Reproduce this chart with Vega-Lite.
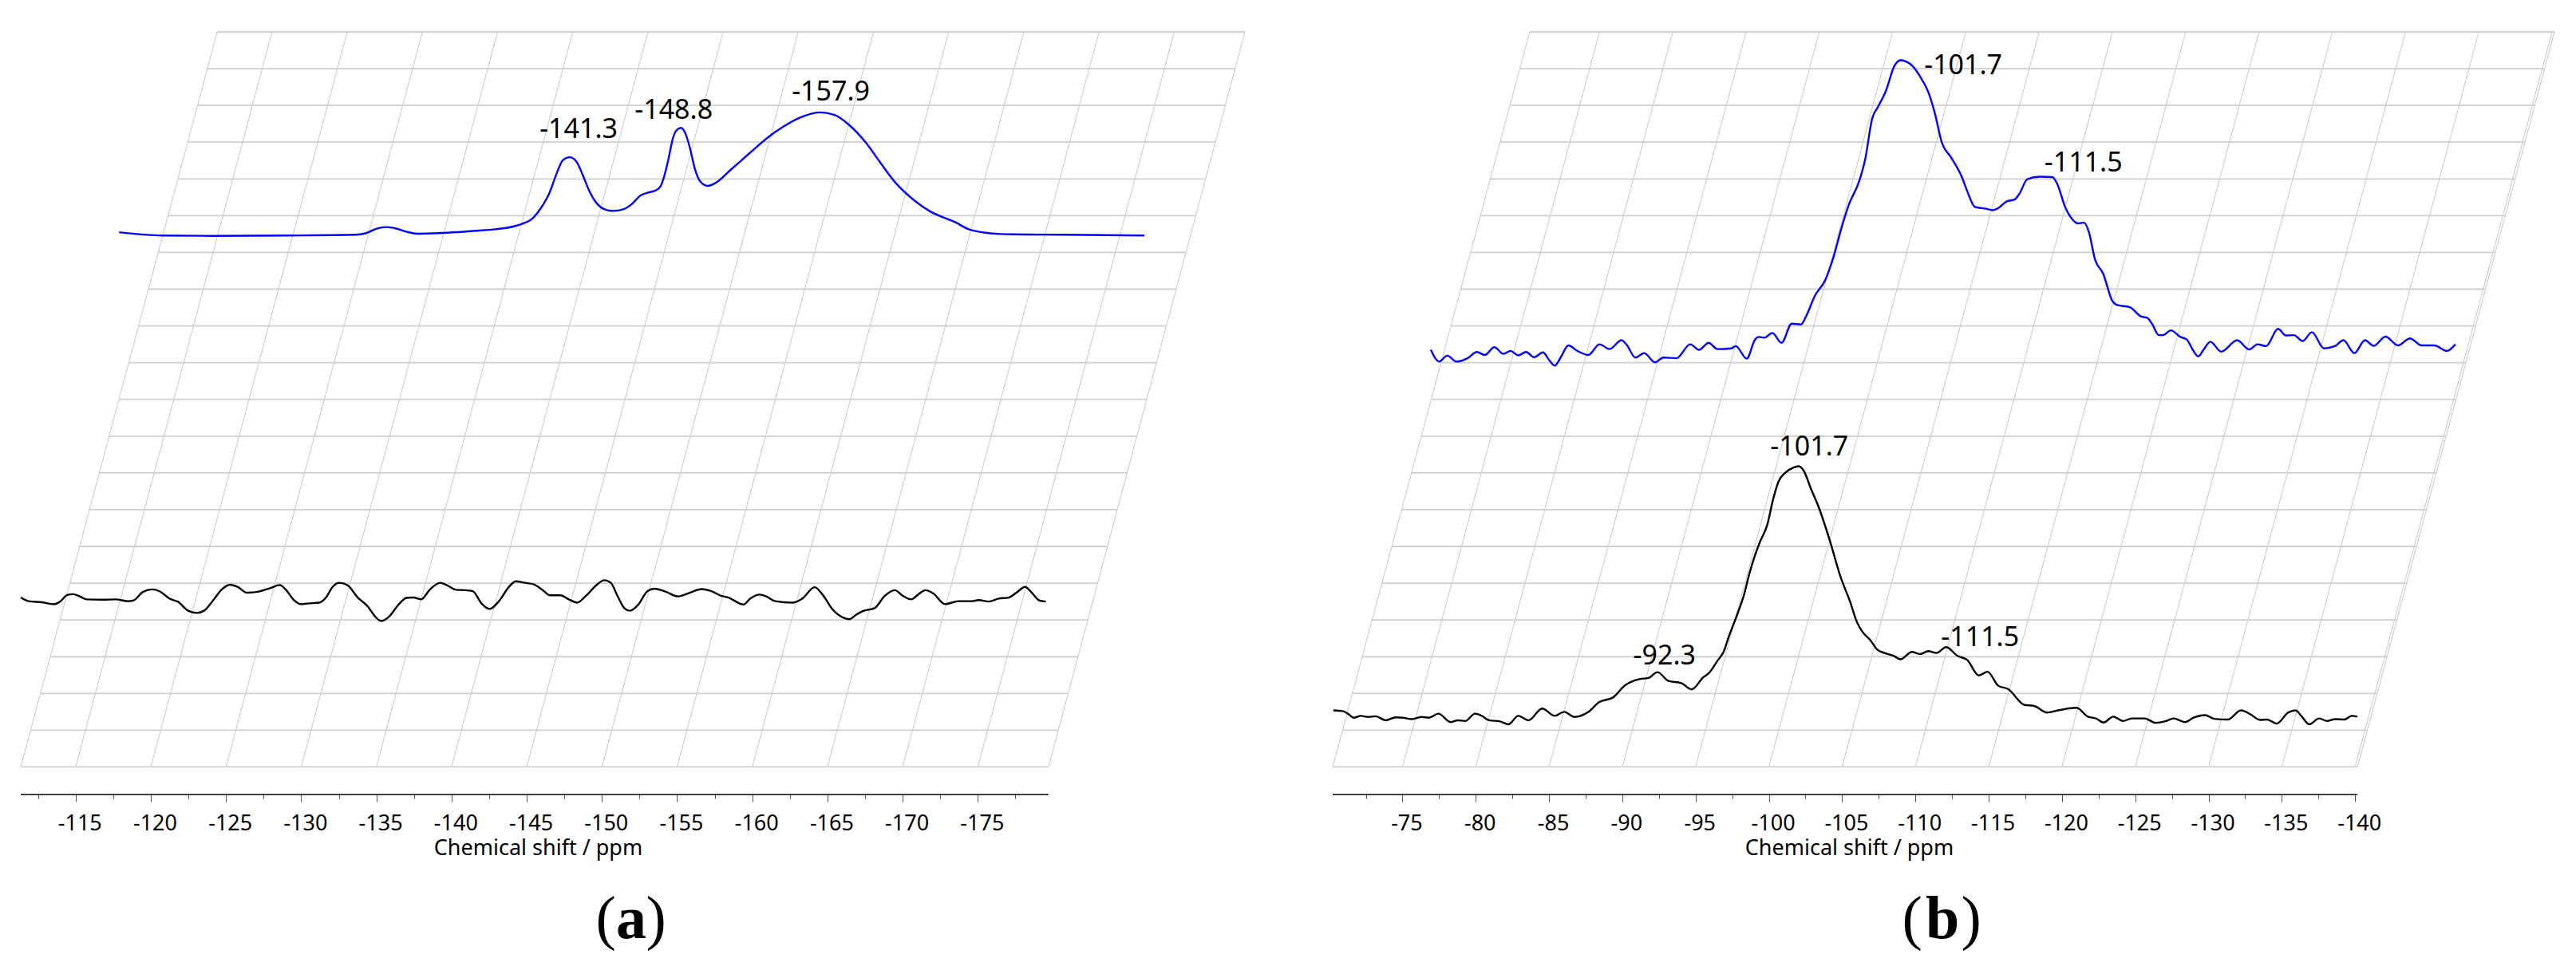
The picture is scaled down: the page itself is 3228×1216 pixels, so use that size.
{
  "$schema": "https://vega.github.io/schema/vega-lite/v6.json",
  "background": "white",
  "padding": {"left": 21, "top": 39, "right": 0, "bottom": 0},
  "config": {"view": {"stroke": null}},
  "datasets": {
    "grid_a_h": [
      {"shift":-111.35,"level":0,"shift2":-179.70,"level2":0},{"shift":-112.00,"level":1,"shift2":-180.35,"level2":1},{"shift":-112.66,"level":2,"shift2":-181.01,"level2":2},{"shift":-113.31,"level":3,"shift2":-181.66,"level2":3},{"shift":-113.96,"level":4,"shift2":-182.31,"level2":4},{"shift":-114.61,"level":5,"shift2":-182.96,"level2":5},{"shift":-115.27,"level":6,"shift2":-183.62,"level2":6},{"shift":-115.92,"level":7,"shift2":-184.27,"level2":7},{"shift":-116.57,"level":8,"shift2":-184.92,"level2":8},{"shift":-117.23,"level":9,"shift2":-185.58,"level2":9},{"shift":-117.88,"level":10,"shift2":-186.23,"level2":10},{"shift":-118.53,"level":11,"shift2":-186.88,"level2":11},{"shift":-119.18,"level":12,"shift2":-187.53,"level2":12},{"shift":-119.84,"level":13,"shift2":-188.19,"level2":13},{"shift":-120.49,"level":14,"shift2":-188.84,"level2":14},{"shift":-121.14,"level":15,"shift2":-189.49,"level2":15},{"shift":-121.80,"level":16,"shift2":-190.15,"level2":16},{"shift":-122.45,"level":17,"shift2":-190.80,"level2":17},{"shift":-123.10,"level":18,"shift2":-191.45,"level2":18},{"shift":-123.76,"level":19,"shift2":-192.11,"level2":19},{"shift":-124.41,"level":20,"shift2":-192.76,"level2":20}
    ],
    "grid_a_v": [
      {"shift":-111.35,"level":0,"shift2":-124.41,"level2":20},{"shift":-115,"level":0,"shift2":-128.06,"level2":20},{"shift":-120,"level":0,"shift2":-133.06,"level2":20},{"shift":-125,"level":0,"shift2":-138.06,"level2":20},{"shift":-130,"level":0,"shift2":-143.06,"level2":20},{"shift":-135,"level":0,"shift2":-148.06,"level2":20},{"shift":-140,"level":0,"shift2":-153.06,"level2":20},{"shift":-145,"level":0,"shift2":-158.06,"level2":20},{"shift":-150,"level":0,"shift2":-163.06,"level2":20},{"shift":-155,"level":0,"shift2":-168.06,"level2":20},{"shift":-160,"level":0,"shift2":-173.06,"level2":20},{"shift":-165,"level":0,"shift2":-178.06,"level2":20},{"shift":-170,"level":0,"shift2":-183.06,"level2":20},{"shift":-175,"level":0,"shift2":-188.06,"level2":20},{"shift":-179.70,"level":0,"shift2":-192.76,"level2":20}
    ],
    "grid_b_h": [
      {"shift":-70.24,"level":0,"shift2":-140.16,"level2":0},{"shift":-70.91,"level":1,"shift2":-140.83,"level2":1},{"shift":-71.58,"level":2,"shift2":-141.50,"level2":2},{"shift":-72.26,"level":3,"shift2":-142.18,"level2":3},{"shift":-72.93,"level":4,"shift2":-142.85,"level2":4},{"shift":-73.60,"level":5,"shift2":-143.52,"level2":5},{"shift":-74.27,"level":6,"shift2":-144.19,"level2":6},{"shift":-74.94,"level":7,"shift2":-144.86,"level2":7},{"shift":-75.62,"level":8,"shift2":-145.54,"level2":8},{"shift":-76.29,"level":9,"shift2":-146.21,"level2":9},{"shift":-76.96,"level":10,"shift2":-146.88,"level2":10},{"shift":-77.63,"level":11,"shift2":-147.55,"level2":11},{"shift":-78.30,"level":12,"shift2":-148.22,"level2":12},{"shift":-78.98,"level":13,"shift2":-148.90,"level2":13},{"shift":-79.65,"level":14,"shift2":-149.57,"level2":14},{"shift":-80.32,"level":15,"shift2":-150.24,"level2":15},{"shift":-80.99,"level":16,"shift2":-150.91,"level2":16},{"shift":-81.66,"level":17,"shift2":-151.58,"level2":17},{"shift":-82.34,"level":18,"shift2":-152.26,"level2":18},{"shift":-83.01,"level":19,"shift2":-152.93,"level2":19},{"shift":-83.68,"level":20,"shift2":-153.60,"level2":20}
    ],
    "grid_b_v": [
      {"shift":-70.24,"level":0,"shift2":-83.68,"level2":20},{"shift":-75,"level":0,"shift2":-88.44,"level2":20},{"shift":-80,"level":0,"shift2":-93.44,"level2":20},{"shift":-85,"level":0,"shift2":-98.44,"level2":20},{"shift":-90,"level":0,"shift2":-103.44,"level2":20},{"shift":-95,"level":0,"shift2":-108.44,"level2":20},{"shift":-100,"level":0,"shift2":-113.44,"level2":20},{"shift":-105,"level":0,"shift2":-118.44,"level2":20},{"shift":-110,"level":0,"shift2":-123.44,"level2":20},{"shift":-115,"level":0,"shift2":-128.44,"level2":20},{"shift":-120,"level":0,"shift2":-133.44,"level2":20},{"shift":-125,"level":0,"shift2":-138.44,"level2":20},{"shift":-130,"level":0,"shift2":-143.44,"level2":20},{"shift":-135,"level":0,"shift2":-148.44,"level2":20},{"shift":-140,"level":0,"shift2":-153.44,"level2":20},{"shift":-140.16,"level":0,"shift2":-153.60,"level2":20}
    ],
    "trace_a": [
      {"shift":-117.89,"intensity":14.55,"series":"upper"},{"shift":-120.79,"intensity":14.46,"series":"upper"},{"shift":-124.07,"intensity":14.45,"series":"upper"},{"shift":-128.97,"intensity":14.46,"series":"upper"},{"shift":-133.63,"intensity":14.48,"series":"upper"},{"shift":-134.28,"intensity":14.52,"series":"upper"},{"shift":-134.99,"intensity":14.64,"series":"upper"},{"shift":-135.65,"intensity":14.69,"series":"upper"},{"shift":-136.31,"intensity":14.65,"series":"upper"},{"shift":-137.02,"intensity":14.56,"series":"upper"},{"shift":-137.73,"intensity":14.51,"series":"upper"},{"shift":-138.82,"intensity":14.52,"series":"upper"},{"shift":-141.71,"intensity":14.59,"series":"upper"},{"shift":-142.93,"intensity":14.63,"series":"upper"},{"shift":-144.15,"intensity":14.71,"series":"upper"},{"shift":-144.76,"intensity":14.79,"series":"upper"},{"shift":-145.37,"intensity":14.92,"series":"upper"},{"shift":-145.88,"intensity":15.17,"series":"upper"},{"shift":-146.49,"intensity":15.60,"series":"upper"},{"shift":-146.99,"intensity":16.15,"series":"upper"},{"shift":-147.40,"intensity":16.51,"series":"upper"},{"shift":-147.85,"intensity":16.59,"series":"upper"},{"shift":-148.31,"intensity":16.47,"series":"upper"},{"shift":-148.72,"intensity":16.11,"series":"upper"},{"shift":-149.12,"intensity":15.71,"series":"upper"},{"shift":-149.63,"intensity":15.35,"series":"upper"},{"shift":-150.14,"intensity":15.18,"series":"upper"},{"shift":-150.75,"intensity":15.13,"series":"upper"},{"shift":-151.46,"intensity":15.18,"series":"upper"},{"shift":-151.97,"intensity":15.31,"series":"upper"},{"shift":-152.57,"intensity":15.55,"series":"upper"},{"shift":-153.08,"intensity":15.63,"series":"upper"},{"shift":-153.59,"intensity":15.69,"series":"upper"},{"shift":-153.90,"intensity":15.80,"series":"upper"},{"shift":-154.14,"intensity":16.07,"series":"upper"},{"shift":-154.41,"intensity":16.51,"series":"upper"},{"shift":-154.71,"intensity":17.09,"series":"upper"},{"shift":-154.95,"intensity":17.32,"series":"upper"},{"shift":-155.26,"intensity":17.39,"series":"upper"},{"shift":-155.56,"intensity":17.23,"series":"upper"},{"shift":-155.86,"intensity":16.83,"series":"upper"},{"shift":-156.17,"intensity":16.29,"series":"upper"},{"shift":-156.54,"intensity":15.93,"series":"upper"},{"shift":-157.04,"intensity":15.81,"series":"upper"},{"shift":-157.55,"intensity":15.89,"series":"upper"},{"shift":-158.57,"intensity":16.25,"series":"upper"},{"shift":-159.79,"intensity":16.69,"series":"upper"},{"shift":-161.01,"intensity":17.12,"series":"upper"},{"shift":-162.02,"intensity":17.41,"series":"upper"},{"shift":-163.24,"intensity":17.68,"series":"upper"},{"shift":-164.46,"intensity":17.81,"series":"upper"},{"shift":-165.48,"intensity":17.74,"series":"upper"},{"shift":-166.49,"intensity":17.45,"series":"upper"},{"shift":-167.51,"intensity":17.01,"series":"upper"},{"shift":-168.52,"intensity":16.44,"series":"upper"},{"shift":-169.54,"intensity":15.89,"series":"upper"},{"shift":-170.55,"intensity":15.49,"series":"upper"},{"shift":-171.77,"intensity":15.13,"series":"upper"},{"shift":-173.56,"intensity":14.81,"series":"upper"},{"shift":-174.33,"intensity":14.64,"series":"upper"},{"shift":-175.41,"intensity":14.54,"series":"upper"},{"shift":-176.52,"intensity":14.50,"series":"upper"},{"shift":-180.88,"intensity":14.48,"series":"upper"},{"shift":-186.08,"intensity":14.46,"series":"upper"},
      {"shift":-111.36,"intensity":4.61,"series":"lower"},{"shift":-111.87,"intensity":4.51,"series":"lower"},{"shift":-112.77,"intensity":4.48,"series":"lower"},{"shift":-113.55,"intensity":4.43,"series":"lower"},{"shift":-114.00,"intensity":4.51,"series":"lower"},{"shift":-114.44,"intensity":4.68,"series":"lower"},{"shift":-114.82,"intensity":4.70,"series":"lower"},{"shift":-115.22,"intensity":4.65,"series":"lower"},{"shift":-115.72,"intensity":4.56,"series":"lower"},{"shift":-116.79,"intensity":4.55,"series":"lower"},{"shift":-117.68,"intensity":4.56,"series":"lower"},{"shift":-118.46,"intensity":4.51,"series":"lower"},{"shift":-118.84,"intensity":4.53,"series":"lower"},{"shift":-119.47,"intensity":4.76,"series":"lower"},{"shift":-120.10,"intensity":4.83,"series":"lower"},{"shift":-120.58,"intensity":4.78,"series":"lower"},{"shift":-121.25,"intensity":4.58,"series":"lower"},{"shift":-121.82,"intensity":4.49,"series":"lower"},{"shift":-122.48,"intensity":4.25,"series":"lower"},{"shift":-123.09,"intensity":4.19,"series":"lower"},{"shift":-123.60,"intensity":4.27,"series":"lower"},{"shift":-124.16,"intensity":4.54,"series":"lower"},{"shift":-124.72,"intensity":4.83,"series":"lower"},{"shift":-125.28,"intensity":4.96,"series":"lower"},{"shift":-125.77,"intensity":4.90,"series":"lower"},{"shift":-126.40,"intensity":4.74,"series":"lower"},{"shift":-127.18,"intensity":4.77,"series":"lower"},{"shift":-127.96,"intensity":4.87,"series":"lower"},{"shift":-128.58,"intensity":4.95,"series":"lower"},{"shift":-128.96,"intensity":4.83,"series":"lower"},{"shift":-129.52,"intensity":4.54,"series":"lower"},{"shift":-129.97,"intensity":4.43,"series":"lower"},{"shift":-130.53,"intensity":4.45,"series":"lower"},{"shift":-131.19,"intensity":4.47,"series":"lower"},{"shift":-131.65,"intensity":4.61,"series":"lower"},{"shift":-132.09,"intensity":4.90,"series":"lower"},{"shift":-132.54,"intensity":5.01,"series":"lower"},{"shift":-133.09,"intensity":4.94,"series":"lower"},{"shift":-133.76,"intensity":4.61,"series":"lower"},{"shift":-134.44,"intensity":4.36,"series":"lower"},{"shift":-134.88,"intensity":4.11,"series":"lower"},{"shift":-135.33,"intensity":3.97,"series":"lower"},{"shift":-135.89,"intensity":4.11,"series":"lower"},{"shift":-136.44,"intensity":4.40,"series":"lower"},{"shift":-137.01,"intensity":4.60,"series":"lower"},{"shift":-137.45,"intensity":4.61,"series":"lower"},{"shift":-137.97,"intensity":4.56,"series":"lower"},{"shift":-138.57,"intensity":4.83,"series":"lower"},{"shift":-139.24,"intensity":5.01,"series":"lower"},{"shift":-139.80,"intensity":4.92,"series":"lower"},{"shift":-140.29,"intensity":4.82,"series":"lower"},{"shift":-140.91,"intensity":4.81,"series":"lower"},{"shift":-141.41,"intensity":4.78,"series":"lower"},{"shift":-142.03,"intensity":4.43,"series":"lower"},{"shift":-142.54,"intensity":4.30,"series":"lower"},{"shift":-143.15,"intensity":4.51,"series":"lower"},{"shift":-143.82,"intensity":4.90,"series":"lower"},{"shift":-144.27,"intensity":5.05,"series":"lower"},{"shift":-144.89,"intensity":5.01,"series":"lower"},{"shift":-145.45,"intensity":4.97,"series":"lower"},{"shift":-146.01,"intensity":4.83,"series":"lower"},{"shift":-146.57,"intensity":4.67,"series":"lower"},{"shift":-147.24,"intensity":4.67,"series":"lower"},{"shift":-147.80,"intensity":4.56,"series":"lower"},{"shift":-148.35,"intensity":4.47,"series":"lower"},{"shift":-148.92,"intensity":4.65,"series":"lower"},{"shift":-149.70,"intensity":4.97,"series":"lower"},{"shift":-150.14,"intensity":5.08,"series":"lower"},{"shift":-150.59,"intensity":5.01,"series":"lower"},{"shift":-151.04,"intensity":4.65,"series":"lower"},{"shift":-151.49,"intensity":4.32,"series":"lower"},{"shift":-151.86,"intensity":4.25,"series":"lower"},{"shift":-152.38,"intensity":4.40,"series":"lower"},{"shift":-153.05,"intensity":4.79,"series":"lower"},{"shift":-153.49,"intensity":4.85,"series":"lower"},{"shift":-154.28,"intensity":4.76,"series":"lower"},{"shift":-155.06,"intensity":4.64,"series":"lower"},{"shift":-155.84,"intensity":4.74,"series":"lower"},{"shift":-156.62,"intensity":4.84,"series":"lower"},{"shift":-157.29,"intensity":4.78,"series":"lower"},{"shift":-157.85,"intensity":4.67,"series":"lower"},{"shift":-158.41,"intensity":4.61,"series":"lower"},{"shift":-159.42,"intensity":4.42,"series":"lower"},{"shift":-159.86,"intensity":4.58,"series":"lower"},{"shift":-160.49,"intensity":4.69,"series":"lower"},{"shift":-160.98,"intensity":4.63,"series":"lower"},{"shift":-161.53,"intensity":4.51,"series":"lower"},{"shift":-162.65,"intensity":4.47,"series":"lower"},{"shift":-163.32,"intensity":4.58,"series":"lower"},{"shift":-164.15,"intensity":4.89,"series":"lower"},{"shift":-164.67,"intensity":4.69,"series":"lower"},{"shift":-165.33,"intensity":4.29,"series":"lower"},{"shift":-166.00,"intensity":4.07,"series":"lower"},{"shift":-166.45,"intensity":4.02,"series":"lower"},{"shift":-166.90,"intensity":4.14,"series":"lower"},{"shift":-167.35,"intensity":4.24,"series":"lower"},{"shift":-168.13,"intensity":4.32,"series":"lower"},{"shift":-168.80,"intensity":4.65,"series":"lower"},{"shift":-169.47,"intensity":4.81,"series":"lower"},{"shift":-170.03,"intensity":4.65,"series":"lower"},{"shift":-170.58,"intensity":4.56,"series":"lower"},{"shift":-171.03,"intensity":4.69,"series":"lower"},{"shift":-171.52,"intensity":4.81,"series":"lower"},{"shift":-172.04,"intensity":4.72,"series":"lower"},{"shift":-172.82,"intensity":4.43,"series":"lower"},{"shift":-173.71,"intensity":4.51,"series":"lower"},{"shift":-174.61,"intensity":4.51,"series":"lower"},{"shift":-175.05,"intensity":4.54,"series":"lower"},{"shift":-175.72,"intensity":4.50,"series":"lower"},{"shift":-176.39,"intensity":4.58,"series":"lower"},{"shift":-177.06,"intensity":4.61,"series":"lower"},{"shift":-177.62,"intensity":4.76,"series":"lower"},{"shift":-178.14,"intensity":4.90,"series":"lower"},{"shift":-178.63,"intensity":4.72,"series":"lower"},{"shift":-179.08,"intensity":4.53,"series":"lower"},{"shift":-179.52,"intensity":4.50,"series":"lower"}
    ],
    "trace_b": [
      {"shift":-76.94,"intensity":11.35,"series":"upper"},{"shift":-77.24,"intensity":11.12,"series":"upper"},{"shift":-77.49,"intensity":11.03,"series":"upper"},{"shift":-78.06,"intensity":11.19,"series":"upper"},{"shift":-78.69,"intensity":11.03,"series":"upper"},{"shift":-79.44,"intensity":11.12,"series":"upper"},{"shift":-80.07,"intensity":11.29,"series":"upper"},{"shift":-80.62,"intensity":11.21,"series":"upper"},{"shift":-81.27,"intensity":11.42,"series":"upper"},{"shift":-81.89,"intensity":11.24,"series":"upper"},{"shift":-82.37,"intensity":11.32,"series":"upper"},{"shift":-82.89,"intensity":11.20,"series":"upper"},{"shift":-83.44,"intensity":11.29,"series":"upper"},{"shift":-83.99,"intensity":11.15,"series":"upper"},{"shift":-84.59,"intensity":11.28,"series":"upper"},{"shift":-84.99,"intensity":11.08,"series":"upper"},{"shift":-85.39,"intensity":10.92,"series":"upper"},{"shift":-85.82,"intensity":11.16,"series":"upper"},{"shift":-86.32,"intensity":11.47,"series":"upper"},{"shift":-86.94,"intensity":11.32,"series":"upper"},{"shift":-87.69,"intensity":11.21,"series":"upper"},{"shift":-88.44,"intensity":11.50,"series":"upper"},{"shift":-89.14,"intensity":11.37,"series":"upper"},{"shift":-89.94,"intensity":11.61,"series":"upper"},{"shift":-90.31,"intensity":11.48,"series":"upper"},{"shift":-90.89,"intensity":11.14,"series":"upper"},{"shift":-91.49,"intensity":11.26,"series":"upper"},{"shift":-92.24,"intensity":11.01,"series":"upper"},{"shift":-92.81,"intensity":11.14,"series":"upper"},{"shift":-93.69,"intensity":11.12,"series":"upper"},{"shift":-94.64,"intensity":11.50,"series":"upper"},{"shift":-95.24,"intensity":11.35,"series":"upper"},{"shift":-95.89,"intensity":11.54,"series":"upper"},{"shift":-96.49,"intensity":11.37,"series":"upper"},{"shift":-97.44,"intensity":11.39,"series":"upper"},{"shift":-97.74,"intensity":11.45,"series":"upper"},{"shift":-98.49,"intensity":11.11,"series":"upper"},{"shift":-99.06,"intensity":11.63,"series":"upper"},{"shift":-99.31,"intensity":11.70,"series":"upper"},{"shift":-99.69,"intensity":11.68,"series":"upper"},{"shift":-100.24,"intensity":11.81,"series":"upper"},{"shift":-100.86,"intensity":11.54,"series":"upper"},{"shift":-101.56,"intensity":12.06,"series":"upper"},{"shift":-102.19,"intensity":12.04,"series":"upper"},{"shift":-102.56,"intensity":12.28,"series":"upper"},{"shift":-103.14,"intensity":12.82,"series":"upper"},{"shift":-103.81,"intensity":13.22,"series":"upper"},{"shift":-104.43,"intensity":13.90,"series":"upper"},{"shift":-104.93,"intensity":14.63,"series":"upper"},{"shift":-105.44,"intensity":15.28,"series":"upper"},{"shift":-106.19,"intensity":15.97,"series":"upper"},{"shift":-106.56,"intensity":16.51,"series":"upper"},{"shift":-107.06,"intensity":17.66,"series":"upper"},{"shift":-107.43,"intensity":17.95,"series":"upper"},{"shift":-107.98,"intensity":18.39,"series":"upper"},{"shift":-108.56,"intensity":19.07,"series":"upper"},{"shift":-108.98,"intensity":19.23,"series":"upper"},{"shift":-109.81,"intensity":19.07,"series":"upper"},{"shift":-110.31,"intensity":18.79,"series":"upper"},{"shift":-110.93,"intensity":18.31,"series":"upper"},{"shift":-111.31,"intensity":17.81,"series":"upper"},{"shift":-111.81,"intensity":16.98,"series":"upper"},{"shift":-112.44,"intensity":16.58,"series":"upper"},{"shift":-113.18,"intensity":16.04,"series":"upper"},{"shift":-113.56,"intensity":15.64,"series":"upper"},{"shift":-114.06,"intensity":15.24,"series":"upper"},{"shift":-114.81,"intensity":15.19,"series":"upper"},{"shift":-115.27,"intensity":15.15,"series":"upper"},{"shift":-115.59,"intensity":15.19,"series":"upper"},{"shift":-116.24,"intensity":15.39,"series":"upper"},{"shift":-116.77,"intensity":15.44,"series":"upper"},{"shift":-117.10,"intensity":15.60,"series":"upper"},{"shift":-117.63,"intensity":15.99,"series":"upper"},{"shift":-118.49,"intensity":16.06,"series":"upper"},{"shift":-119.35,"intensity":16.05,"series":"upper"},{"shift":-119.68,"intensity":15.86,"series":"upper"},{"shift":-120.21,"intensity":15.24,"series":"upper"},{"shift":-120.75,"intensity":14.88,"series":"upper"},{"shift":-121.08,"intensity":14.79,"series":"upper"},{"shift":-121.51,"intensity":14.81,"series":"upper"},{"shift":-121.83,"intensity":14.56,"series":"upper"},{"shift":-122.26,"intensity":13.80,"series":"upper"},{"shift":-122.80,"intensity":13.43,"series":"upper"},{"shift":-123.45,"intensity":12.67,"series":"upper"},{"shift":-123.77,"intensity":12.57,"series":"upper"},{"shift":-124.63,"intensity":12.51,"series":"upper"},{"shift":-125.38,"intensity":12.26,"series":"upper"},{"shift":-125.81,"intensity":12.22,"series":"upper"},{"shift":-126.14,"intensity":12.06,"series":"upper"},{"shift":-126.61,"intensity":11.75,"series":"upper"},{"shift":-126.89,"intensity":11.75,"series":"upper"},{"shift":-127.43,"intensity":11.88,"series":"upper"},{"shift":-128.08,"intensity":11.70,"series":"upper"},{"shift":-128.51,"intensity":11.63,"series":"upper"},{"shift":-128.94,"intensity":11.34,"series":"upper"},{"shift":-129.30,"intensity":11.17,"series":"upper"},{"shift":-129.69,"intensity":11.37,"series":"upper"},{"shift":-130.12,"intensity":11.57,"series":"upper"},{"shift":-130.87,"intensity":11.30,"series":"upper"},{"shift":-131.95,"intensity":11.61,"series":"upper"},{"shift":-132.77,"intensity":11.36,"series":"upper"},{"shift":-133.34,"intensity":11.50,"series":"upper"},{"shift":-133.93,"intensity":11.45,"series":"upper"},{"shift":-134.74,"intensity":11.92,"series":"upper"},{"shift":-135.28,"intensity":11.74,"series":"upper"},{"shift":-135.82,"intensity":11.75,"series":"upper"},{"shift":-136.43,"intensity":11.59,"series":"upper"},{"shift":-137.05,"intensity":11.83,"series":"upper"},{"shift":-137.87,"intensity":11.39,"series":"upper"},{"shift":-138.62,"intensity":11.45,"series":"upper"},{"shift":-139.20,"intensity":11.61,"series":"upper"},{"shift":-139.95,"intensity":11.26,"series":"upper"},{"shift":-140.67,"intensity":11.61,"series":"upper"},{"shift":-141.27,"intensity":11.46,"series":"upper"},{"shift":-142.07,"intensity":11.71,"series":"upper"},{"shift":-142.93,"intensity":11.47,"series":"upper"},{"shift":-143.74,"intensity":11.66,"series":"upper"},{"shift":-144.54,"intensity":11.47,"series":"upper"},{"shift":-145.40,"intensity":11.47,"series":"upper"},{"shift":-146.26,"intensity":11.32,"series":"upper"},{"shift":-146.84,"intensity":11.50,"series":"upper"},
      {"shift":-70.29,"intensity":1.54,"series":"lower"},{"shift":-70.91,"intensity":1.52,"series":"lower"},{"shift":-71.28,"intensity":1.45,"series":"lower"},{"shift":-71.66,"intensity":1.34,"series":"lower"},{"shift":-72.16,"intensity":1.39,"series":"lower"},{"shift":-72.65,"intensity":1.36,"series":"lower"},{"shift":-73.16,"intensity":1.38,"series":"lower"},{"shift":-73.86,"intensity":1.27,"series":"lower"},{"shift":-74.53,"intensity":1.35,"series":"lower"},{"shift":-75.03,"intensity":1.34,"series":"lower"},{"shift":-75.66,"intensity":1.30,"series":"lower"},{"shift":-76.28,"intensity":1.36,"series":"lower"},{"shift":-76.79,"intensity":1.34,"series":"lower"},{"shift":-77.46,"intensity":1.45,"series":"lower"},{"shift":-78.28,"intensity":1.22,"series":"lower"},{"shift":-78.78,"intensity":1.27,"series":"lower"},{"shift":-79.28,"intensity":1.25,"series":"lower"},{"shift":-79.96,"intensity":1.45,"series":"lower"},{"shift":-80.41,"intensity":1.39,"series":"lower"},{"shift":-80.91,"intensity":1.27,"series":"lower"},{"shift":-81.66,"intensity":1.24,"series":"lower"},{"shift":-82.23,"intensity":1.16,"series":"lower"},{"shift":-82.90,"intensity":1.39,"series":"lower"},{"shift":-83.61,"intensity":1.27,"series":"lower"},{"shift":-84.53,"intensity":1.59,"series":"lower"},{"shift":-85.41,"intensity":1.39,"series":"lower"},{"shift":-86.03,"intensity":1.50,"series":"lower"},{"shift":-86.73,"intensity":1.36,"series":"lower"},{"shift":-87.66,"intensity":1.49,"series":"lower"},{"shift":-88.41,"intensity":1.76,"series":"lower"},{"shift":-89.40,"intensity":1.90,"series":"lower"},{"shift":-90.15,"intensity":2.21,"series":"lower"},{"shift":-91.16,"intensity":2.39,"series":"lower"},{"shift":-91.78,"intensity":2.42,"series":"lower"},{"shift":-92.40,"intensity":2.58,"series":"lower"},{"shift":-93.15,"intensity":2.34,"series":"lower"},{"shift":-94.03,"intensity":2.28,"series":"lower"},{"shift":-94.73,"intensity":2.11,"series":"lower"},{"shift":-95.53,"intensity":2.44,"series":"lower"},{"shift":-95.90,"intensity":2.55,"series":"lower"},{"shift":-96.53,"intensity":2.91,"series":"lower"},{"shift":-96.91,"intensity":3.13,"series":"lower"},{"shift":-97.28,"intensity":3.56,"series":"lower"},{"shift":-97.90,"intensity":4.21,"series":"lower"},{"shift":-98.28,"intensity":4.65,"series":"lower"},{"shift":-98.65,"intensity":5.23,"series":"lower"},{"shift":-99.03,"intensity":5.73,"series":"lower"},{"shift":-99.40,"intensity":6.13,"series":"lower"},{"shift":-99.90,"intensity":6.60,"series":"lower"},{"shift":-100.27,"intensity":7.25,"series":"lower"},{"shift":-100.65,"intensity":7.76,"series":"lower"},{"shift":-101.10,"intensity":8.00,"series":"lower"},{"shift":-101.65,"intensity":8.14,"series":"lower"},{"shift":-102.03,"intensity":8.18,"series":"lower"},{"shift":-102.35,"intensity":8.08,"series":"lower"},{"shift":-102.90,"intensity":7.54,"series":"lower"},{"shift":-103.40,"intensity":7.07,"series":"lower"},{"shift":-104.15,"intensity":6.17,"series":"lower"},{"shift":-104.90,"intensity":5.16,"series":"lower"},{"shift":-105.53,"intensity":4.51,"series":"lower"},{"shift":-106.02,"intensity":3.93,"series":"lower"},{"shift":-106.40,"intensity":3.67,"series":"lower"},{"shift":-106.90,"intensity":3.46,"series":"lower"},{"shift":-107.40,"intensity":3.19,"series":"lower"},{"shift":-107.90,"intensity":3.10,"series":"lower"},{"shift":-108.54,"intensity":3.02,"series":"lower"},{"shift":-108.98,"intensity":2.93,"series":"lower"},{"shift":-109.76,"intensity":3.13,"series":"lower"},{"shift":-110.32,"intensity":3.07,"series":"lower"},{"shift":-110.87,"intensity":3.15,"series":"lower"},{"shift":-111.43,"intensity":3.10,"series":"lower"},{"shift":-112.10,"intensity":3.26,"series":"lower"},{"shift":-112.88,"intensity":3.02,"series":"lower"},{"shift":-113.54,"intensity":2.91,"series":"lower"},{"shift":-114.32,"intensity":2.49,"series":"lower"},{"shift":-114.92,"intensity":2.59,"series":"lower"},{"shift":-115.65,"intensity":2.21,"series":"lower"},{"shift":-116.32,"intensity":2.12,"series":"lower"},{"shift":-117.43,"intensity":1.69,"series":"lower"},{"shift":-118.10,"intensity":1.66,"series":"lower"},{"shift":-118.98,"intensity":1.48,"series":"lower"},{"shift":-119.87,"intensity":1.55,"series":"lower"},{"shift":-120.99,"intensity":1.61,"series":"lower"},{"shift":-121.76,"intensity":1.37,"series":"lower"},{"shift":-122.32,"intensity":1.32,"series":"lower"},{"shift":-122.83,"intensity":1.21,"series":"lower"},{"shift":-123.50,"intensity":1.37,"series":"lower"},{"shift":-124.16,"intensity":1.25,"series":"lower"},{"shift":-124.76,"intensity":1.32,"series":"lower"},{"shift":-125.65,"intensity":1.32,"series":"lower"},{"shift":-126.38,"intensity":1.20,"series":"lower"},{"shift":-127.10,"intensity":1.25,"series":"lower"},{"shift":-127.61,"intensity":1.32,"series":"lower"},{"shift":-128.39,"intensity":1.22,"series":"lower"},{"shift":-128.98,"intensity":1.34,"series":"lower"},{"shift":-129.76,"intensity":1.41,"series":"lower"},{"shift":-130.38,"intensity":1.31,"series":"lower"},{"shift":-131.32,"intensity":1.29,"series":"lower"},{"shift":-132.21,"intensity":1.54,"series":"lower"},{"shift":-132.87,"intensity":1.43,"series":"lower"},{"shift":-133.50,"intensity":1.28,"series":"lower"},{"shift":-133.98,"intensity":1.29,"series":"lower"},{"shift":-134.65,"intensity":1.18,"series":"lower"},{"shift":-135.43,"intensity":1.48,"series":"lower"},{"shift":-135.94,"intensity":1.54,"series":"lower"},{"shift":-136.32,"intensity":1.39,"series":"lower"},{"shift":-136.87,"intensity":1.16,"series":"lower"},{"shift":-137.54,"intensity":1.32,"series":"lower"},{"shift":-138.09,"intensity":1.25,"series":"lower"},{"shift":-138.65,"intensity":1.30,"series":"lower"},{"shift":-139.27,"intensity":1.29,"series":"lower"},{"shift":-139.76,"intensity":1.39,"series":"lower"},{"shift":-140.16,"intensity":1.37,"series":"lower"}
    ]
  },
  "spacing": 105,
  "hconcat": [
    {
      "width": 1534,
      "height": 956,
      "encoding": {
        "x": {
          "field": "shift",
          "type": "quantitative",
          "scale": {"domain": [-111.35, -192.76], "nice": false, "zero": false},
          "axis": {
            "values": [-112.5,-115,-117.5,-120,-122.5,-125,-127.5,-130,-132.5,-135,-137.5,-140,-142.5,-145,-147.5,-150,-152.5,-155,-157.5,-160,-162.5,-165,-167.5,-170,-172.5,-175,-177.5],
            "labelExpr": "datum.value % 5 == 0 ? '' + datum.value : ''",
            "domain": false,
            "grid": false,
            "tickColor": "#555555",
            "tickSize": {"condition": {"test": "datum.value % 5 == 0", "value": 9}, "value": 5},
            "labelFont": "Noto Sans",
            "labelFontSize": 27,
            "labelColor": "black",
            "labelOffset": 5,
            "labelPadding": 14,
            "labelOverlap": false,
            "labelBound": false,
            "labelFlush": false,
            "title": "Chemical shift / ppm",
            "titleFont": "Noto Sans",
            "titleFontSize": 27,
            "titleFontWeight": "normal",
            "titleColor": "black",
            "titleX": 648,
            "titleY": 75,
            "titleBaseline": "alphabetic"
          }
        },
        "y": {
          "field": "level",
          "type": "quantitative",
          "scale": {"domain": [-0.75, 20], "nice": false, "zero": false},
          "axis": null
        }
      },
      "layer": [
        {
          "data": {"name": "grid_a_v"},
          "mark": {"type": "rule", "color": "#c6c6c6", "strokeWidth": 1},
          "encoding": {"x2": {"field": "shift2"}, "y2": {"field": "level2"}}
        },
        {
          "data": {"name": "grid_a_h"},
          "mark": {"type": "rule", "color": "#cfcfcf", "strokeWidth": 1.8},
          "encoding": {"x2": {"field": "shift2"}, "y2": {"field": "level2"}}
        },
        {
          "data": {"values": [{"shift": -111.35, "level": -0.75, "shift2": -179.7, "level2": -0.75}]},
          "mark": {"type": "rule", "color": "black", "strokeWidth": 1.5},
          "encoding": {"x2": {"field": "shift2"}, "y2": {"field": "level2"}}
        },
        {
          "data": {"name": "trace_a"},
          "mark": {"type": "line", "interpolate": "monotone", "strokeWidth": 2.4},
          "encoding": {
            "y": {"field": "intensity", "type": "quantitative"},
            "color": {"field": "series", "type": "nominal", "scale": {"domain": ["upper", "lower"], "range": ["#0000ff", "#000000"]}, "legend": null}
          }
        },
        {
          "data": {"values": [
            {"shift": -148.45, "level": 17.33, "label": "-141.3"},
            {"shift": -154.77, "level": 17.86, "label": "-148.8"},
            {"shift": -165.22, "level": 18.35, "label": "-157.9"}
          ]},
          "mark": {"type": "text", "font": "Noto Sans", "fontSize": 34, "color": "black", "baseline": "middle"},
          "encoding": {"text": {"field": "label"}}
        },
        {
          "data": {"values": [
            {"shift": -150.26, "level": -4.16, "label": "("},
            {"shift": -153.6, "level": -4.16, "label": ")"}
          ]},
          "mark": {"type": "text", "font": "Liberation Serif", "fontSize": 76, "color": "black", "baseline": "middle"},
          "encoding": {"text": {"field": "label"}}
        },
        {
          "data": {"values": [{"shift": -151.95, "level": -4.16, "label": "a"}]},
          "mark": {"type": "text", "font": "Liberation Serif", "fontSize": 76, "fontWeight": "bold", "color": "black", "baseline": "middle"},
          "encoding": {"text": {"field": "label"}}
        }
      ]
    },
    {
      "width": 1531,
      "height": 956,
      "encoding": {
        "x": {
          "field": "shift",
          "type": "quantitative",
          "scale": {"domain": [-70.24, -153.6], "nice": false, "zero": false},
          "axis": {
            "values": [-72.5,-75,-77.5,-80,-82.5,-85,-87.5,-90,-92.5,-95,-97.5,-100,-102.5,-105,-107.5,-110,-112.5,-115,-117.5,-120,-122.5,-125,-127.5,-130,-132.5,-135,-137.5,-140],
            "labelExpr": "datum.value % 5 == 0 ? '' + datum.value : ''",
            "domain": false,
            "grid": false,
            "tickColor": "#555555",
            "tickSize": {"condition": {"test": "datum.value % 5 == 0", "value": 9}, "value": 5},
            "labelFont": "Noto Sans",
            "labelFontSize": 27,
            "labelColor": "black",
            "labelOffset": 5,
            "labelPadding": 14,
            "labelOverlap": false,
            "labelBound": false,
            "labelFlush": false,
            "title": "Chemical shift / ppm",
            "titleFont": "Noto Sans",
            "titleFontSize": 27,
            "titleFontWeight": "normal",
            "titleColor": "black",
            "titleX": 647,
            "titleY": 75,
            "titleBaseline": "alphabetic"
          }
        },
        "y": {
          "field": "level",
          "type": "quantitative",
          "scale": {"domain": [-0.75, 20], "nice": false, "zero": false},
          "axis": null
        }
      },
      "layer": [
        {
          "data": {"name": "grid_b_v"},
          "mark": {"type": "rule", "color": "#c6c6c6", "strokeWidth": 1},
          "encoding": {"x2": {"field": "shift2"}, "y2": {"field": "level2"}}
        },
        {
          "data": {"name": "grid_b_h"},
          "mark": {"type": "rule", "color": "#cfcfcf", "strokeWidth": 1.8},
          "encoding": {"x2": {"field": "shift2"}, "y2": {"field": "level2"}}
        },
        {
          "data": {"values": [{"shift": -70.24, "level": -0.75, "shift2": -140.16, "level2": -0.75}]},
          "mark": {"type": "rule", "color": "black", "strokeWidth": 1.5},
          "encoding": {"x2": {"field": "shift2"}, "y2": {"field": "level2"}}
        },
        {
          "data": {"name": "trace_b"},
          "mark": {"type": "line", "interpolate": "monotone", "strokeWidth": 2.4},
          "encoding": {
            "y": {"field": "intensity", "type": "quantitative"},
            "color": {"field": "series", "type": "nominal", "scale": {"domain": ["upper", "lower"], "range": ["#0000ff", "#000000"]}, "legend": null}
          }
        },
        {
          "data": {"values": [
            {"shift": -113.26, "level": 19.07, "label": "-101.7"},
            {"shift": -121.46, "level": 16.42, "label": "-111.5"},
            {"shift": -102.76, "level": 8.70, "label": "-101.7"},
            {"shift": -92.88, "level": 3.00, "label": "-92.3"},
            {"shift": -114.41, "level": 3.50, "label": "-111.5"}
          ]},
          "mark": {"type": "text", "font": "Noto Sans", "fontSize": 34, "color": "black", "baseline": "middle"},
          "encoding": {"text": {"field": "label"}}
        },
        {
          "data": {"values": [
            {"shift": -109.78, "level": -4.16, "label": "("},
            {"shift": -113.81, "level": -4.16, "label": ")"}
          ]},
          "mark": {"type": "text", "font": "Liberation Serif", "fontSize": 76, "color": "black", "baseline": "middle"},
          "encoding": {"text": {"field": "label"}}
        },
        {
          "data": {"values": [{"shift": -111.85, "level": -4.16, "label": "b"}]},
          "mark": {"type": "text", "font": "Liberation Serif", "fontSize": 76, "fontWeight": "bold", "color": "black", "baseline": "middle"},
          "encoding": {"text": {"field": "label"}}
        }
      ]
    }
  ]
}
